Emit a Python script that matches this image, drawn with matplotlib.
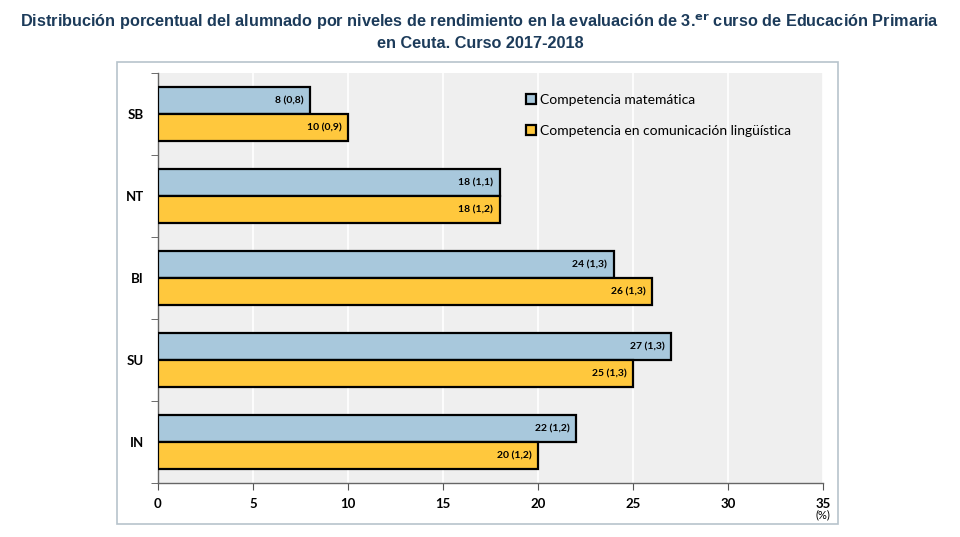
import matplotlib.pyplot as plt
import numpy as np
from matplotlib.patches import Rectangle
from matplotlib import font_manager

niveles = ["SB", "NT", "BI", "SU", "IN"]
matematica = [8, 18, 24, 27, 22]
matematica_err = ["0,8", "1,1", "1,3", "1,3", "1,2"]
linguistica = [10, 18, 26, 25, 20]
linguistica_err = ["0,9", "1,2", "1,3", "1,3", "1,2"]
xticks = [0, 5, 10, 15, 20, 25, 30, 35]

azul = "#a8c8dc"
amarillo = "#ffc83d"

nombres = set(f.name for f in font_manager.fontManager.ttflist)
titulo_font = "Liberation Sans Narrow" if "Liberation Sans Narrow" in nombres else "Liberation Sans"
plt.rcParams["font.family"] = ["Lato", "DejaVu Sans"]

fig = plt.figure(figsize=(9.6, 5.37), dpi=100)
fig.patch.set_facecolor("white")

# marco exterior
fig.patches.append(Rectangle((117 / 960, 1 - 524 / 537), (838 - 117) / 960, (524 - 62) / 537,
                             transform=fig.transFigure, fill=False,
                             edgecolor="#b7c3cc", linewidth=1.2))

ax = fig.add_axes([158 / 960, 1 - 483 / 537, (823 - 158) / 960, (483 - 73) / 537])
ax.set_facecolor("#efefef")

y = np.arange(len(niveles))
h = 0.33
ax.barh(y - h / 2, matematica, height=h, color=azul, edgecolor="black",
        linewidth=1.6, label="Competencia matemática", zorder=3)
ax.barh(y + h / 2, linguistica, height=h, color=amarillo, edgecolor="black",
        linewidth=1.6, label="Competencia en comunicación lingüística", zorder=3)

for i in range(len(niveles)):
    ax.text(matematica[i] - 0.35, y[i] - h / 2, "%d (%s)" % (matematica[i], matematica_err[i]),
            ha="right", va="center", fontsize=7.5, fontweight="bold", zorder=4)
    ax.text(linguistica[i] - 0.35, y[i] + h / 2, "%d (%s)" % (linguistica[i], linguistica_err[i]),
            ha="right", va="center", fontsize=7.5, fontweight="bold", zorder=4)

ax.set_xlim(0, 35)
ax.set_ylim(4.5, -0.5)
ax.set_xticks(xticks)
ax.set_xticklabels([str(t) for t in xticks], fontsize=9.5, fontweight="bold")
ax.set_yticks(y)
ax.set_yticklabels(niveles, fontsize=9.5, fontweight="bold")
ax.set_yticks(np.arange(-0.5, 5, 1), minor=True)
ax.tick_params(axis="y", which="major", length=0, pad=10)
ax.tick_params(axis="y", which="minor", length=5, color="#555555")
ax.tick_params(axis="x", length=5, color="#555555", pad=6)
ax.grid(axis="x", color="white", linewidth=1.2, zorder=0)
for s in ["top", "right"]:
    ax.spines[s].set_visible(False)
for s in ["left", "bottom"]:
    ax.spines[s].set_color("#666666")
    ax.spines[s].set_linewidth(1.0)

ax.text(1.0, -0.063, "(%)", transform=ax.transAxes, fontsize=8,
        ha="center", va="top")

ax.legend(loc="upper left", bbox_to_anchor=(0.535, 0.98), frameon=False,
          fontsize=10, handlelength=0.7, handleheight=0.7, handletextpad=0.3,
          labelspacing=1.4)

fig.text(0.5, 0.978, "Distribución porcentual del alumnado por niveles de rendimiento en la evaluación de 3.$^{\\mathbf{er}}$ curso de Educación Primaria\nen Ceuta. Curso 2017-2018",
         ha="center", va="top", fontsize=11.7, fontweight="bold", color="#1c3b5a",
         linespacing=1.3, family=[titulo_font, "DejaVu Sans"])

fig.savefig("out.png", dpi=100)
